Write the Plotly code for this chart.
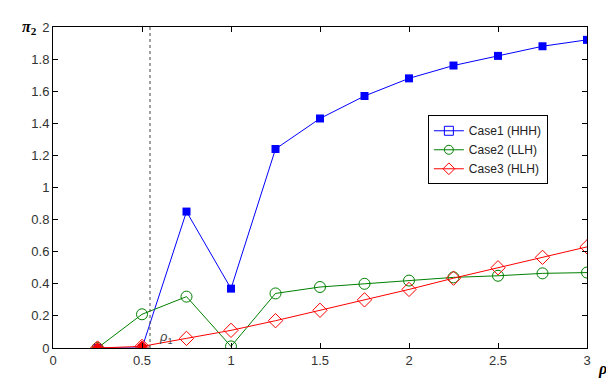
import plotly.graph_objects as go

rho = [0.25, 0.5, 0.75, 1.0, 1.25, 1.5, 1.75, 2.0, 2.25, 2.5, 2.75, 3.0]
case1 = [0.0, 0.0, 0.85, 0.37, 1.24, 1.43, 1.57, 1.68, 1.76, 1.82, 1.88, 1.92]
case2 = [0.0, 0.21, 0.32, 0.01, 0.34, 0.38, 0.40, 0.42, 0.44, 0.45, 0.465, 0.47]
case3 = [0.0, 0.01, 0.06, 0.11, 0.17, 0.235, 0.30, 0.365, 0.435, 0.50, 0.565, 0.63]
rho1 = 0.545

BLUE = "#0000ff"
GREEN = "#008000"
RED = "#ff0000"

fig = go.Figure()
fig.add_trace(go.Scatter(x=rho, y=case1, mode="lines+markers", showlegend=False,
                         line=dict(color=BLUE, width=1),
                         marker=dict(symbol="square", size=8, color=BLUE)))
fig.add_trace(go.Scatter(x=rho, y=case2, mode="lines+markers", showlegend=False,
                         line=dict(color=GREEN, width=1),
                         marker=dict(symbol="circle-open", size=11, color=GREEN, line=dict(width=1))))
fig.add_trace(go.Scatter(x=rho, y=case3, mode="lines+markers", showlegend=False,
                         line=dict(color=RED, width=1),
                         marker=dict(symbol="diamond-open", size=11, color=RED, line=dict(width=1))))
fig.add_trace(go.Scatter(x=rho[:2], y=case3[:2], mode="markers", showlegend=False,
                         marker=dict(symbol="diamond", size=9, color=RED)))

# legend entries
for name, col, sym in [("Case1 (HHH)", BLUE, "square-open"),
                       ("Case2 (LLH)", GREEN, "circle-open"),
                       ("Case3 (HLH)", RED, "diamond-open")]:
    fig.add_trace(go.Scatter(x=[None], y=[None], mode="lines+markers", name=name,
                             line=dict(color=col, width=1),
                             marker=dict(symbol=sym, size=9, color=col, line=dict(width=1))))

fig.add_shape(type="line", x0=rho1, x1=rho1, y0=0, y1=2, xref="x", yref="y",
              line=dict(color="#444", width=1, dash="dot"))
fig.add_annotation(x=rho1, y=0.0, text="<i>ρ</i><sub>1</sub>", showarrow=False,
                   xanchor="left", yanchor="bottom", xshift=7, font=dict(size=13, color="#444"))
fig.add_annotation(x=0, y=1, xref="paper", yref="paper", text="<b><i>π</i></b><sub><b>2</b></sub>",
                   showarrow=False, xanchor="right", yanchor="bottom", xshift=-14, yshift=-12,
                   font=dict(size=16, color="black", family="Liberation Serif"))
fig.add_annotation(x=1, y=0, xref="paper", yref="paper", text="<b><i>ρ</i></b>",
                   showarrow=False, xanchor="left", yanchor="top", xshift=9, yshift=-10,
                   font=dict(size=16, color="black", family="Liberation Serif"))

axis_common = dict(showgrid=False, zeroline=False, showline=True, linecolor="black", linewidth=1,
                   mirror="ticks", ticks="inside", ticklen=5, tickcolor="black",
                   tickfont=dict(family="Liberation Sans", size=13, color="#333"))
fig.update_xaxes(range=[0, 3], tick0=0, dtick=0.5, **axis_common)
fig.update_yaxes(range=[0, 2], tick0=0, dtick=0.2, **axis_common)

fig.update_layout(
    width=614, height=378, margin=dict(l=45, r=35, t=16, b=38),
    paper_bgcolor="white", plot_bgcolor="white",
    font=dict(family="Liberation Sans", size=12, color="#333"),
    legend=dict(x=0.702, y=0.725, xanchor="left", yanchor="top",
                bordercolor="black", borderwidth=1, bgcolor="white",
                font=dict(size=12, color="#222"), tracegroupgap=0, itemwidth=30),
)
fig.write_html("out.html")
